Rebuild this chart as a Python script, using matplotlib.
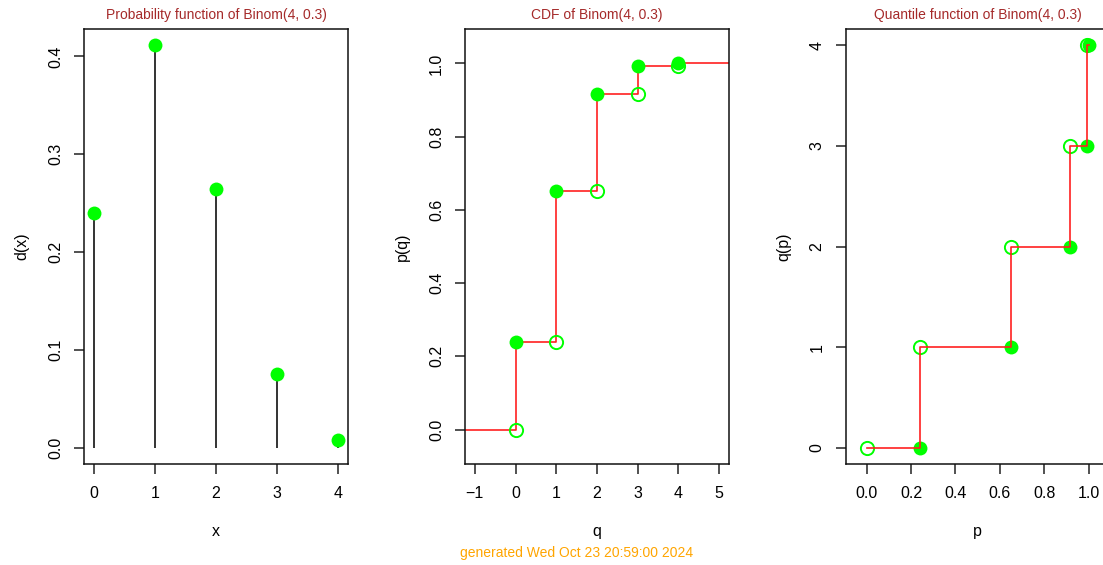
import matplotlib.pyplot as plt
import numpy as np

plt.rcParams['font.family'] = ['Liberation Sans', 'DejaVu Sans']

# Binom(4, 0.3) values
x_vals = [0, 1, 2, 3, 4]
pmf = [0.2401, 0.4116, 0.2646, 0.0756, 0.0081]
cdf = [0.2401, 0.6517, 0.9163, 0.9919, 1.0]
cdf_prev = [0.0, 0.2401, 0.6517, 0.9163, 0.9919]
p_left = [0.0, 0.2401, 0.6517, 0.9163, 0.9919]
p_right = [0.2401, 0.6517, 0.9163, 0.9919, 1.0]

titles = ['Probability function of Binom(4, 0.3)',
          'CDF of Binom(4, 0.3)',
          'Quantile function of Binom(4, 0.3)']
footer = 'generated Wed Oct 23 20:59:00 2024'

GREEN = '#00ff00'
RED = '#ff2020'
TITLE_COL = '#a52a2a'

W, H = 1103, 565
fig = plt.figure(figsize=(W / 100, H / 100), dpi=100)

def make_ax(left_px):
    # axes box in pixels: top 29, bottom 464, width 264
    return fig.add_axes([left_px / W, (H - 464) / H, 264 / W, 435 / H])

def style(ax, title, xlab, ylab):
    for s in ax.spines.values():
        s.set_linewidth(1.1)
        s.set_color('#111111')
    ax.tick_params(length=7.2, width=1.1, pad=8.5, labelsize=11.5, color='#222222')
    ax.tick_params(axis='y', labelrotation=90, pad=8)
    for lab in ax.get_yticklabels():
        lab.set_va('center')
    ax.set_xlabel(xlab, fontsize=11.5)
    ax.set_ylabel(ylab, fontsize=11.5)
    ax.xaxis.set_label_coords(0.5, -0.156)
    ax.xaxis.label.set_va('center')
    ax.yaxis.set_label_coords(-0.236, 0.5)
    ax.yaxis.label.set_va('center')
    ax.yaxis.label.set_ha('center')
    ax.text(0.5, 1 + 14 / 435, title, transform=ax.transAxes, ha='center',
            va='center', fontsize=10, color=TITLE_COL)

# panel 1: probability function
ax1 = make_ax(84)
ax1.vlines(x_vals, 0, pmf, color='#111111', lw=1.2, zorder=2)
ax1.plot(x_vals, pmf, 'o', color=GREEN, ms=10, mec='none', zorder=3)
ax1.set_xlim(-0.164, 4.164)
ax1.set_ylim(-0.0165, 0.428)
ax1.set_xticks([0, 1, 2, 3, 4])
ax1.set_yticks([0.0, 0.1, 0.2, 0.3, 0.4])
ax1.set_yticklabels(['0.0', '0.1', '0.2', '0.3', '0.4'])
style(ax1, titles[0], 'x', 'd(x)')

# panel 2: CDF
ax2 = make_ax(465)
ax2.set_xlim(-1.24, 5.24)
ax2.set_ylim(-0.094, 1.094)
xs = [-2] + x_vals + [6]
ys = [0.0] + cdf + [cdf[-1]]
ax2.step(xs, ys, where='post', color=RED, lw=1.2, zorder=2)
ax2.plot(x_vals, cdf_prev, 'o', mfc='none', mec=GREEN, mew=1.4, ms=9.5, zorder=3)
ax2.plot(x_vals, cdf, 'o', color=GREEN, ms=10, mec='none', zorder=4)
ax2.set_xticks([-1, 0, 1, 2, 3, 4, 5])
ax2.set_xticklabels(['\u22121', '0', '1', '2', '3', '4', '5'])
ax2.set_yticks([0.0, 0.2, 0.4, 0.6, 0.8, 1.0])
ax2.set_yticklabels(['0.0', '0.2', '0.4', '0.6', '0.8', '1.0'])
style(ax2, titles[1], 'q', 'p(q)')

# panel 3: quantile function (right edge runs past the figure)
ax3 = make_ax(845.7)
ax3.set_xlim(-0.094, 1.094)
ax3.set_ylim(-0.16, 4.16)
ax3.plot(p_left, x_vals, 'o', mfc='none', mec=GREEN, mew=1.4, ms=9.5, zorder=2)
ax3.plot(p_right, x_vals, 'o', color=GREEN, ms=10, mec='none', zorder=3)
ax3.step(p_left + [p_right[-1]], x_vals + [x_vals[-1]], where='post',
         color=RED, lw=1.2, zorder=4)
ax3.set_xticks([0.0, 0.2, 0.4, 0.6, 0.8, 1.0])
ax3.set_xticklabels(['0.0', '0.2', '0.4', '0.6', '0.8', '1.0'])
ax3.set_yticks([0, 1, 2, 3, 4])
style(ax3, titles[2], 'p', 'q(p)')

fig.text(577 / W, (H - 553) / H, footer, ha='center', va='center',
         fontsize=10, color='#ffa500')

fig.savefig('out.png', dpi=100)
